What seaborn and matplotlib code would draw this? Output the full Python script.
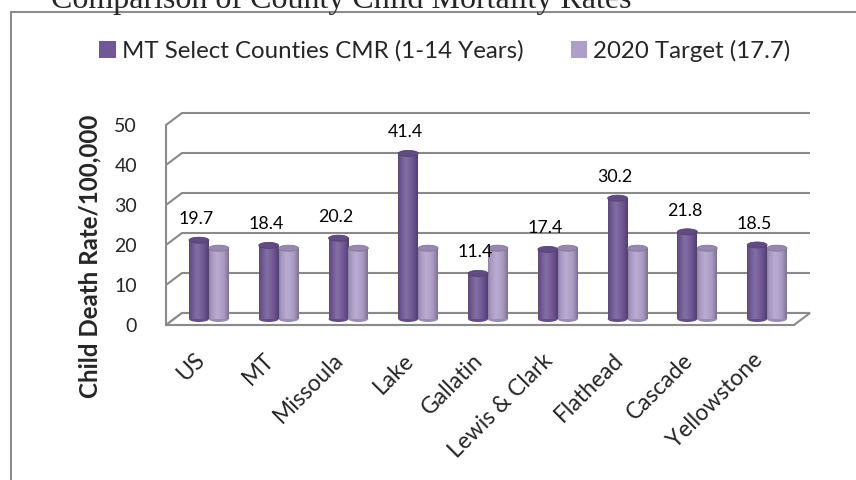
import numpy as np
import pandas as pd
import matplotlib
matplotlib.use("Agg")
import matplotlib.pyplot as plt
import seaborn as sns
from matplotlib.patches import Polygon, Ellipse, Rectangle, Patch

# ---- data ----
counties = ["US", "MT", "Missoula", "Lake", "Gallatin", "Lewis & Clark",
            "Flathead", "Cascade", "Yellowstone"]
cmr_values = [19.7, 18.4, 20.2, 41.4, 11.4, 17.4, 30.2, 21.8, 18.5]
target_values = [17.7, 17.7, 17.7, 17.7, 17.7, 17.7, 17.7, 17.7, 17.7]
series_names = ["MT Select Counties CMR (1-14 Years)", "2020 Target (17.7)"]
y_ticks = [0, 10, 20, 30, 40, 50]
title_text = "Comparison of County Child Mortality Rates"
y_label = "Child Death Rate/100,000"

df = pd.DataFrame({
    "county": counties * 2,
    "value": cmr_values + target_values,
    "series": [series_names[0]] * len(counties) + [series_names[1]] * len(counties),
})

# ---- style ----
sns.set_style("white")
plt.rcParams["font.family"] = ["Lato", "DejaVu Sans"]

purple = "#705896"
lilac = "#AE9FC9"
grid_gray = "#8A8A8A"

W, H = 856, 480
fig = plt.figure(figsize=(W / 100, H / 100), dpi=100)
x0_px, x1_px, y0_px, y1_px = 166, 794, 325, 125
ax = fig.add_axes([x0_px / W, (H - y0_px) / H, (x1_px - x0_px) / W, (y0_px - y1_px) / H])

sns.barplot(data=df, x="county", y="value", hue="series", palette=[purple, lilac],
            width=0.57, dodge=True, ax=ax, legend=False, saturation=1)

n = len(counties)
ax.set_xlim(-0.5, n - 0.5)
ax.set_ylim(0, 50)

# depth offsets (data units)
DX = 16 / ((x1_px - x0_px) / n)
DY = 12 / ((y0_px - y1_px) / 50)

# back wall grid + left wall diagonals
for v in y_ticks:
    ax.plot([-0.5 + DX, n - 0.5 + DX], [v + DY, v + DY], color=grid_gray,
            lw=1.5, clip_on=False, zorder=1, solid_capstyle="butt")
    ax.plot([-0.5, -0.5 + DX], [v, v + DY], color=grid_gray, lw=1.5, clip_on=False, zorder=1)

# floor
floor = Polygon([(-0.5, 0), (n - 0.5, 0), (n - 0.5 + DX, DY), (-0.5 + DX, DY)],
                closed=True, facecolor="white", edgecolor=grid_gray, lw=1.5,
                clip_on=False, zorder=1.5)
ax.add_patch(floor)


def grad_colors(base):
    b = np.array(matplotlib.colors.to_rgb(base))
    light = b + (1 - b) * 0.14
    t = np.linspace(0, 1, 64)
    stops = [(0.0, b * 0.82), (0.12, b * 0.95), (0.4, light), (0.75, b * 0.97), (1.0, b * 0.72)]
    cols = np.zeros((64, 3))
    for i, tt in enumerate(t):
        for (ta, ca), (tb, cb) in zip(stops[:-1], stops[1:]):
            if ta <= tt <= tb:
                f = (tt - ta) / (tb - ta)
                cols[i] = ca * (1 - f) + cb * f
                break
    return np.clip(cols[None, :, :], 0, 1)


EH = 6 / ((y0_px - y1_px) / 50)  # cap ellipse height in data units
bar_patches = [p for p in ax.patches if p is not floor]
for i, p in enumerate(bar_patches):
    x = p.get_x() + DX / 2
    w = p.get_width()
    h = p.get_height()
    base_col = purple if i < n else lilac
    b = np.array(matplotlib.colors.to_rgb(base_col))
    p.set_x(x)
    p.set_y(DY / 2)
    p.set_facecolor("none")
    p.set_edgecolor("none")
    p.set_clip_on(False)
    im = ax.imshow(grad_colors(base_col), extent=[x, x + w, DY / 2, DY / 2 + h],
                   aspect="auto", zorder=3, interpolation="bilinear")
    im.set_clip_path(p)
    ax.add_patch(Ellipse((x + w / 2, DY / 2), w, EH, facecolor=b * 0.88,
                         edgecolor="none", zorder=2.9, clip_on=False))
    ax.add_patch(Ellipse((x + w / 2, DY / 2 + h), w, EH, facecolor=b * 0.86,
                         edgecolor=b * 0.75, lw=0.6, zorder=3.1, clip_on=False))
    if i < n:
        ax.annotate(f"{cmr_values[i]}", xy=(x + w / 2, DY / 2 + h),
                    xytext=(-3, 21), textcoords="offset pixels",
                    ha="center", va="center", fontsize=12.8, color="black",
                    annotation_clip=False, zorder=5)

ax.set_xlim(-0.5, n - 0.5)
ax.set_ylim(0, 50)

# spines / ticks
for s in ["top", "right"]:
    ax.spines[s].set_visible(False)
for s in ["left", "bottom"]:
    ax.spines[s].set_color(grid_gray)
    ax.spines[s].set_linewidth(1.5)
    ax.spines[s].set_zorder(2)

ax.set_yticks(y_ticks)
ax.set_yticklabels([str(t) for t in y_ticks], fontsize=14)
ax.tick_params(axis="y", direction="out", length=5.8, width=1.1, color=grid_gray, pad=15)
ax.set_xticks(range(n))
ax.set_xticklabels(counties, rotation=45, ha="right", va="center",
                   rotation_mode="anchor", fontsize=16.5)
ax.tick_params(axis="x", length=0, pad=23)
ax.set_xticks(np.arange(-0.5, n, 1.0), minor=True)
ax.tick_params(axis="x", which="minor", direction="out", length=5.8, width=1.1,
               color=grid_gray)
ax.set_xlabel("")
ax.set_ylabel(y_label, fontsize=17.4, fontweight="bold")
ax.yaxis.set_label_coords((101.5 - x0_px) / (x1_px - x0_px), (y0_px - 256) / (y0_px - y1_px))
ax.patch.set_visible(False)

# legend
handles = [Patch(facecolor=purple, edgecolor="none"), Patch(facecolor=lilac, edgecolor="none")]
fig.legend(handles, series_names, loc="center", bbox_to_anchor=(445 / W, 1 - 51 / H),
           ncol=2, frameon=False, fontsize=17.3, handlelength=0.67, handleheight=0.67,
           handletextpad=0.25, columnspacing=2.0, borderaxespad=0, borderpad=0)

# outer frame
fig.add_artist(Rectangle((11 / W, -0.2), 1.2, (H - 12) / H + 0.2, transform=fig.transFigure,
                         fill=False, edgecolor="#8C8C8C", lw=1.5))

# title (partially cut off at the top, as in the reference)
fig.text(51 / W, 1 - 8 / H, title_text, fontsize=23, family=["Liberation Serif", "DejaVu Serif"],
         ha="left", va="baseline")

fig.savefig("out.png", dpi=100)
